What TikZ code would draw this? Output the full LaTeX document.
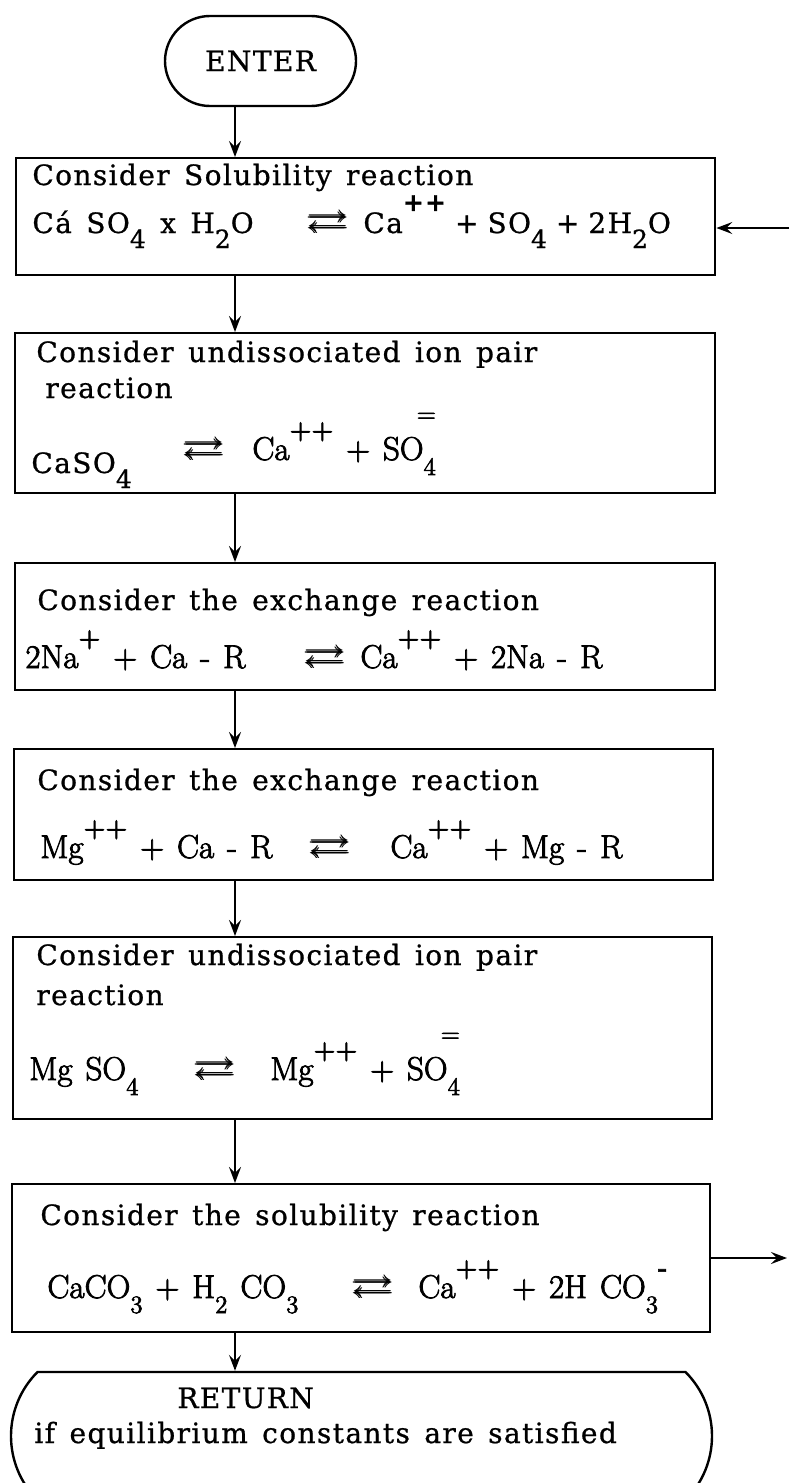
\documentclass[tikz,border=0pt]{standalone}
\usepackage{fontspec}
\usepackage{amssymb}
\usepackage{bm}
\usepackage{graphicx}
\usetikzlibrary{arrows.meta, positioning, shapes.misc}

\newfontfamily\prose[LetterSpace=5, WordSpace=1.4, FakeBold=0.8]{DejaVu Serif}
\newfontfamily\chem[WordSpace=1.3, FakeBold=2.5]{Latin Modern Roman}

\newcommand{\chsub}[1]{\raisebox{-7.5pt}{\fontsize{12.5}{12.5}\selectfont #1}}
\newcommand{\chsup}[1]{\raisebox{11pt}{\fontsize{12.5}{12.5}\selectfont\bfseries #1}}
\newcommand{\chsubsup}[2]{\chsub{#1}\llap{\raisebox{19pt}{\fontsize{12.5}{12.5}\selectfont #2}}}
\newcommand{\eqarrow}{\scalebox{2.1}[1.6]{$\bm{\rightleftarrows}$}}

\begin{document}
\begin{tikzpicture}[x=0.5pt, y=-0.5pt,
    box/.style={draw, line width=1.2pt, anchor=north west, inner sep=0pt},
    term/.style={draw, line width=1.2pt, rounded rectangle, inner sep=0pt},
    flow/.style={line width=1pt, -{Stealth[length=8pt, width=6pt, inset=3pt]}},
    txt/.style={anchor=base west, inner sep=0pt, font={\prose\fontsize{14}{16}\selectfont}},
    chem/.style={anchor=base west, inner sep=0pt, font={\chem\fontsize{16.5}{18}\selectfont}},
    eq/.style={anchor=base west, inner sep=0pt}]
  \useasboundingbox (0,0) rectangle (789,1483);

  % terminals and process boxes
  \node[term, minimum width=95.5pt, minimum height=45pt, font={\prose\fontsize{14}{16}\selectfont}] (enter) at (260.5,61) {ENTER};
  \node[box, minimum width=349.5pt, minimum height=58.5pt] (b1) at (15,157) {};
  \node[box, minimum width=350pt, minimum height=80pt] (b2) at (14,332) {};
  \node[box, minimum width=350pt, minimum height=63.5pt] (b3) at (14,562) {};
  \node[box, minimum width=349.5pt, minimum height=65.5pt] (b4) at (13,748) {};
  \node[box, minimum width=349.5pt, minimum height=91pt] (b5) at (12,936) {};
  \node[box, minimum width=349pt, minimum height=74pt] (b6) at (11,1183) {};
  \node[term, rounded rectangle arc length=90, minimum width=350.5pt, minimum height=64pt] (ret) at (361.5,1436) {};

  % box texts
  \node[txt] (l1a) at (32,185) {Consider Solubility reaction};
  \node[txt] (l1b) at (32,233) {Cá SO\chsub{4} x H\chsub{2}O};
  \node[eq] (e1) at (305,233) {\eqarrow};
  \node[txt] (l1c) at (363,233) {Ca\chsup{++}\hspace{4.5pt}+\hspace{4.5pt}SO\chsub{4}\hspace{4.5pt}+\hspace{4.5pt}2H\chsub{2}O};

  \node[txt] (l2a) at (36,362) {Consider undissociated ion pair};
  \node[txt] (l2b) at (45,398) {reaction};
  \node[txt] (l2c) at (31,473) {CaSO\chsub{4}};
  \node[eq] (e2) at (181,460) {\eqarrow};
  \node[chem] (l2d) at (252,460) {Ca\chsup{++} + SO\chsubsup{4}{=}};

  \node[txt] (l3a) at (37,610) {Consider the exchange reaction};
  \node[chem] (l3b) at (25,668) {2Na\chsup{+} + Ca - R};
  \node[eq] (e3) at (302,668) {\eqarrow};
  \node[chem] (l3c) at (360,668) {Ca\chsup{++} + 2Na - R};

  \node[txt] (l4a) at (37,790) {Consider the exchange reaction};
  \node[chem] (l4b) at (40,858) {Mg\chsup{++} + Ca - R};
  \node[eq] (e4) at (307,858) {\eqarrow};
  \node[chem] (l4c) at (390,858) {Ca\chsup{++} + Mg - R};

  \node[txt] (l5a) at (36,965) {Consider undissociated ion pair};
  \node[txt] (l5b) at (36,1005) {reaction};
  \node[chem] (l5c) at (29,1080) {Mg SO\chsub{4}};
  \node[eq] (e5) at (192,1080) {\eqarrow};
  \node[chem] (l5d) at (270,1080) {Mg\chsup{++} + SO\chsubsup{4}{=}};

  \node[txt] (l6a) at (40,1225) {Consider the solubility reaction};
  \node[chem] (l6b) at (47,1298) {CaCO\chsub{3} + H\chsub{2} CO\chsub{3}};
  \node[eq] (e6) at (350,1298) {\eqarrow};
  \node[chem] (l6c) at (418,1298) {Ca\chsup{++} + 2H CO\chsub{3}\chsup{-}};

  \node[txt] (r1) at (177,1408) {RETURN};
  \node[txt] (r2) at (34,1443) {if equilibrium constants are satisfied};

  % main flow
  \coordinate (col) at (235,0);
  \draw[flow] (enter.south -| col) -- (b1.north -| col);
  \draw[flow] (b1.south -| col) -- (b2.north -| col);
  \draw[flow] (b2.south -| col) -- (b3.north -| col);
  \draw[flow] (b3.south -| col) -- (b4.north -| col);
  \draw[flow] (b4.south -| col) -- (b5.north -| col);
  \draw[flow] (b5.south -| col) -- (b6.north -| col);
  \draw[flow] (b6.south -| col) -- (ret.north -| col);

  % side connectors
  \coordinate (feed) at (789,228);
  \coordinate (exit) at (787,1258);
  \draw[flow] (feed) -- (feed -| b1.east);
  \draw[flow] (exit -| b6.east) -- (exit);
\end{tikzpicture}
\end{document}
